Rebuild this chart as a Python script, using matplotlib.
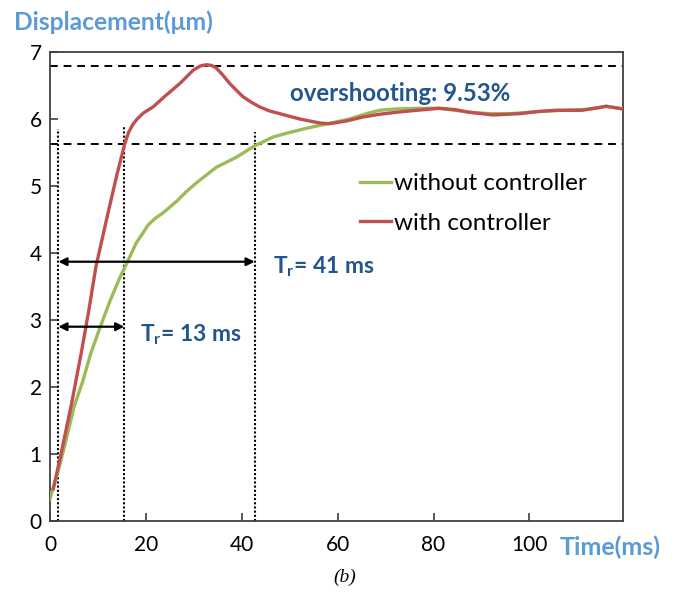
import matplotlib
matplotlib.use("Agg")
import matplotlib.pyplot as plt

plt.rcParams['font.family'] = ['Lato', 'DejaVu Sans']

# Step response, time in ms, displacement in um
t_without = [0, 2.1, 3.5, 5, 6.9, 8.5, 10.4, 12.5, 14.5, 16.5, 18, 19.4, 20.5, 22,
             23.6, 26.4, 28.5, 30.6, 34.7, 38.9, 42.7, 46.5, 50, 54, 58, 62.5, 66,
             68.75, 72.2, 77, 81, 84.5, 87.5, 91.7, 96, 100, 104, 107, 111, 114,
             116, 119.5]
d_without = [0.33, 0.85, 1.25, 1.7, 2.1, 2.5, 2.88, 3.28, 3.62, 3.92, 4.15, 4.3, 4.42,
             4.52, 4.6, 4.77, 4.92, 5.05, 5.28, 5.43, 5.6, 5.73, 5.8, 5.87, 5.93,
             6.0, 6.08, 6.13, 6.15, 6.16, 6.16, 6.13, 6.1, 6.08, 6.08, 6.1, 6.12,
             6.13, 6.14, 6.16, 6.19, 6.15]

t_with = [0.7, 2.3, 4.5, 6.5, 8, 9.6, 11.8, 13.9, 15.6, 16.4, 17.3, 18.2, 19.5, 21.5,
          24.3, 27.1, 29.9, 31.3, 32.6, 33.7, 34.7, 36, 37.5, 39, 40.3, 42, 43.75,
          45.8, 47.9, 50, 52.1, 54.2, 56.3, 58.3, 61.8, 65.3, 68.7, 72.2, 76.5,
          81.25, 84.5, 87.5, 92.4, 98, 101.5, 105.5, 111, 113.5, 116, 119.5]
d_with = [0.48, 1.0, 1.75, 2.5, 3.1, 3.8, 4.5, 5.15, 5.63, 5.8, 5.92, 6.0, 6.09, 6.18,
          6.36, 6.53, 6.73, 6.79, 6.81, 6.8, 6.76, 6.66, 6.53, 6.42, 6.33, 6.25, 6.18,
          6.12, 6.08, 6.04, 6.0, 5.97, 5.94, 5.93, 5.97, 6.03, 6.07, 6.1, 6.13,
          6.16, 6.14, 6.1, 6.06, 6.08, 6.11, 6.13, 6.13, 6.16, 6.19, 6.15]

x_ticks = [0, 20, 40, 60, 80, 100]
y_ticks = [0, 1, 2, 3, 4, 5, 6, 7]

peak_level = 6.79      # overshoot peak
rise_level = 5.62      # 90 % of steady state
t_start = 1.75         # rise-time start
t_rise_with = 15.5     # end of rise, with controller
t_rise_without = 42.7  # end of rise, without controller

GREEN = '#9bbb59'
RED = '#c0504d'
TITLE_BLUE = '#5b9bd5'
NOTE_BLUE = '#23558f'

fig = plt.figure(figsize=(6.78, 5.97), dpi=100)
ax = fig.add_axes([0.0737, 0.1273, 0.845, 0.7856])

ax.plot(t_without, d_without, color=GREEN, lw=2.4, label='without controller',
        zorder=3, solid_joinstyle='round')
ax.plot(t_with, d_with, color=RED, lw=2.4, label='with controller',
        zorder=3, solid_joinstyle='round')

ax.set_xlim(0, 119.5)
ax.set_ylim(0, 7)

# reference levels
ax.axhline(peak_level, color='black', lw=1.4, ls=(0, (4, 3)), zorder=2)
ax.axhline(rise_level, color='black', lw=1.4, ls=(0, (4, 3)), zorder=2)

# rise-time markers
ax.plot([t_start, t_start], [0, 5.85], color='black', lw=1.5, ls=(0, (1, 1)), zorder=2)
ax.plot([t_rise_with, t_rise_with], [0, 5.9], color='black', lw=1.5, ls=(0, (1, 1)), zorder=2)
ax.plot([t_rise_without, t_rise_without], [0, 5.8], color='black', lw=1.5, ls=(0, (1, 1)), zorder=2)

arrow = dict(arrowstyle='<|-|>', color='black', lw=1.6, mutation_scale=12,
             shrinkA=0, shrinkB=0)
ax.annotate('', xy=(t_rise_without, 3.87), xytext=(t_start, 3.87), arrowprops=arrow)
ax.annotate('', xy=(t_rise_with, 2.9), xytext=(t_start, 2.9), arrowprops=arrow)

ax.text(46.5, 3.8, r'T$_\mathregular{r}$= 41 ms', color=NOTE_BLUE, fontsize=16.5,
        fontweight='bold', va='center', ha='left')
ax.text(18.8, 2.78, r'T$_\mathregular{r}$= 13 ms', color=NOTE_BLUE, fontsize=16.5,
        fontweight='bold', va='center', ha='left')
ax.text(50.1, 6.38, 'overshooting: 9.53%', color=NOTE_BLUE, fontsize=17.3,
        fontweight='bold', va='center', ha='left')

ax.set_xticks(x_ticks)
ax.set_yticks(y_ticks)
ax.tick_params(direction='in', length=6, width=1.2, color='#404040',
               labelsize=15, pad=10)
ax.tick_params(axis='y', pad=6)
for s in ax.spines.values():
    s.set_color('#404040')
    s.set_linewidth(1.3)

leg = ax.legend(loc='upper left', bbox_to_anchor=(0.524, 0.762), frameon=False,
                fontsize=17.5, handlelength=1.3, handletextpad=0.1,
                labelspacing=0.75, borderaxespad=0)

fig.text(14 / 678, 1 - 22 / 597, 'Displacement(μm)', color=TITLE_BLUE,
         fontsize=17.7, fontweight='bold', va='center', ha='left')
fig.text(560 / 678, 1 - 547 / 597, 'Time(ms)', color=TITLE_BLUE,
         fontsize=18, fontweight='bold', va='center', ha='left')
fig.text(345 / 678, 1 - 577 / 597, '(b)', fontsize=14, style='italic',
         family=['Liberation Serif', 'DejaVu Serif'], va='center', ha='center')

fig.savefig('out.png', dpi=100)
